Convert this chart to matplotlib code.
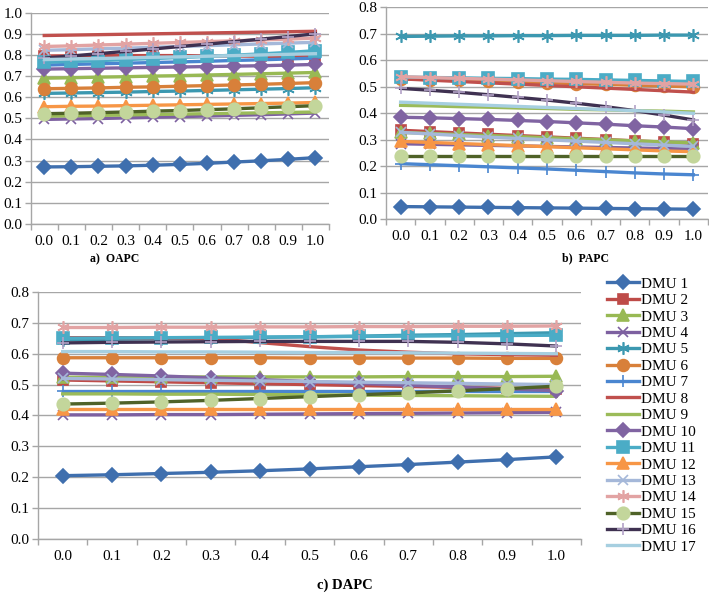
import numpy as np
import matplotlib
matplotlib.use('Agg')
import matplotlib.pyplot as plt

plt.rcParams['font.family'] = 'serif'
plt.rcParams['font.serif'] = ['Liberation Serif', 'Times New Roman', 'DejaVu Serif']

# ====================== DATA ======================
x_labels = ['0.0', '0.1', '0.2', '0.3', '0.4', '0.5', '0.6', '0.7', '0.8', '0.9', '1.0']
dmu_names = [f'DMU {i}' for i in range(1, 18)]

# a) OAPC, one row per DMU
oapc = [
    [0.270, 0.271, 0.273, 0.275, 0.278, 0.282, 0.287, 0.293, 0.299, 0.306, 0.314],
    [0.795, 0.796, 0.797, 0.797, 0.797, 0.797, 0.796, 0.795, 0.794, 0.792, 0.790],
    [0.690, 0.692, 0.695, 0.697, 0.700, 0.702, 0.705, 0.708, 0.711, 0.714, 0.717],
    [0.495, 0.497, 0.499, 0.502, 0.505, 0.508, 0.511, 0.514, 0.517, 0.521, 0.525],
    [0.618, 0.620, 0.622, 0.624, 0.627, 0.629, 0.632, 0.635, 0.638, 0.641, 0.645],
    [0.640, 0.642, 0.644, 0.647, 0.649, 0.652, 0.655, 0.658, 0.661, 0.665, 0.669],
    [0.752, 0.755, 0.758, 0.761, 0.764, 0.767, 0.770, 0.774, 0.777, 0.781, 0.785],
    [0.892, 0.894, 0.896, 0.898, 0.900, 0.902, 0.904, 0.906, 0.908, 0.910, 0.912],
    [0.510, 0.512, 0.514, 0.516, 0.518, 0.520, 0.522, 0.524, 0.526, 0.528, 0.530],
    [0.733, 0.735, 0.737, 0.739, 0.741, 0.743, 0.745, 0.747, 0.749, 0.752, 0.755],
    [0.765, 0.769, 0.773, 0.778, 0.783, 0.788, 0.793, 0.799, 0.805, 0.812, 0.820],
    [0.555, 0.557, 0.558, 0.560, 0.562, 0.564, 0.566, 0.568, 0.570, 0.572, 0.575],
    [0.822, 0.825, 0.829, 0.832, 0.836, 0.840, 0.844, 0.848, 0.852, 0.856, 0.860],
    [0.840, 0.843, 0.847, 0.851, 0.855, 0.859, 0.863, 0.867, 0.871, 0.875, 0.880],
    [0.522, 0.524, 0.527, 0.530, 0.534, 0.537, 0.541, 0.545, 0.550, 0.555, 0.560],
    [0.785, 0.795, 0.806, 0.817, 0.828, 0.840, 0.851, 0.863, 0.875, 0.887, 0.900],
    [0.778, 0.781, 0.783, 0.786, 0.789, 0.791, 0.794, 0.797, 0.800, 0.803, 0.806],
]

# b) PAPC
papc = [
    [0.048, 0.047, 0.046, 0.045, 0.044, 0.043, 0.042, 0.041, 0.040, 0.039, 0.038],
    [0.336, 0.331, 0.326, 0.321, 0.316, 0.311, 0.306, 0.301, 0.296, 0.291, 0.286],
    [0.328, 0.324, 0.320, 0.316, 0.312, 0.308, 0.304, 0.300, 0.296, 0.292, 0.288],
    [0.285, 0.283, 0.281, 0.279, 0.277, 0.275, 0.273, 0.271, 0.269, 0.267, 0.265],
    [0.690, 0.691, 0.692, 0.692, 0.693, 0.693, 0.694, 0.694, 0.694, 0.695, 0.695],
    [0.530, 0.527, 0.524, 0.521, 0.518, 0.515, 0.512, 0.509, 0.506, 0.503, 0.500],
    [0.210, 0.206, 0.202, 0.198, 0.194, 0.190, 0.185, 0.180, 0.175, 0.171, 0.168],
    [0.530, 0.525, 0.520, 0.515, 0.510, 0.505, 0.500, 0.495, 0.490, 0.485, 0.480],
    [0.430, 0.428, 0.425, 0.423, 0.420, 0.418, 0.415, 0.413, 0.410, 0.408, 0.405],
    [0.385, 0.383, 0.380, 0.377, 0.373, 0.369, 0.364, 0.359, 0.353, 0.348, 0.342],
    [0.537, 0.535, 0.534, 0.532, 0.531, 0.529, 0.528, 0.526, 0.524, 0.522, 0.520],
    [0.294, 0.290, 0.286, 0.282, 0.278, 0.274, 0.270, 0.266, 0.262, 0.258, 0.255],
    [0.328, 0.322, 0.316, 0.310, 0.305, 0.300, 0.295, 0.290, 0.285, 0.280, 0.275],
    [0.538, 0.535, 0.532, 0.529, 0.526, 0.523, 0.520, 0.517, 0.514, 0.512, 0.510],
    [0.240, 0.240, 0.240, 0.240, 0.240, 0.240, 0.240, 0.240, 0.240, 0.240, 0.240],
    [0.494, 0.487, 0.479, 0.470, 0.460, 0.450, 0.438, 0.425, 0.410, 0.393, 0.375],
    [0.442, 0.438, 0.434, 0.430, 0.426, 0.422, 0.418, 0.414, 0.410, 0.405, 0.400],
]

# c) DAPC
dapc = [
    [0.205, 0.208, 0.212, 0.216, 0.221, 0.227, 0.234, 0.241, 0.249, 0.257, 0.266],
    [0.515, 0.512, 0.509, 0.506, 0.503, 0.500, 0.497, 0.494, 0.491, 0.488, 0.485],
    [0.524, 0.524, 0.524, 0.525, 0.525, 0.525, 0.525, 0.526, 0.526, 0.526, 0.527],
    [0.402, 0.402, 0.403, 0.403, 0.404, 0.405, 0.406, 0.407, 0.408, 0.409, 0.410],
    [0.645, 0.647, 0.649, 0.651, 0.653, 0.655, 0.657, 0.660, 0.662, 0.665, 0.668],
    [0.587, 0.587, 0.587, 0.587, 0.587, 0.586, 0.586, 0.586, 0.586, 0.585, 0.585],
    [0.480, 0.480, 0.480, 0.480, 0.480, 0.480, 0.480, 0.480, 0.480, 0.480, 0.480],
    [0.652, 0.652, 0.651, 0.650, 0.636, 0.623, 0.612, 0.605, 0.600, 0.597, 0.595],
    [0.470, 0.470, 0.469, 0.469, 0.468, 0.467, 0.466, 0.465, 0.464, 0.463, 0.462],
    [0.537, 0.533, 0.528, 0.522, 0.516, 0.510, 0.504, 0.498, 0.492, 0.486, 0.480],
    [0.650, 0.651, 0.652, 0.653, 0.654, 0.655, 0.656, 0.657, 0.658, 0.659, 0.660],
    [0.420, 0.420, 0.420, 0.420, 0.420, 0.420, 0.420, 0.420, 0.420, 0.420, 0.420],
    [0.520, 0.518, 0.516, 0.514, 0.512, 0.510, 0.508, 0.506, 0.504, 0.502, 0.500],
    [0.685, 0.685, 0.686, 0.686, 0.687, 0.687, 0.688, 0.688, 0.689, 0.689, 0.690],
    [0.437, 0.440, 0.444, 0.449, 0.455, 0.461, 0.467, 0.473, 0.480, 0.487, 0.495],
    [0.635, 0.637, 0.638, 0.639, 0.640, 0.640, 0.640, 0.640, 0.637, 0.632, 0.625],
    [0.607, 0.607, 0.606, 0.606, 0.605, 0.604, 0.604, 0.603, 0.602, 0.601, 0.600],
]

# ====================== STYLES ======================
asterisk = (6, 2, 0)
# (line colour, marker, marker face, marker edge, marker size)
styles = [
    ('#3F6FAE', 'D', '#3F6FAE', '#3F6FAE', 7),
    ('#BE4B48', 's', '#BE4B48', '#BE4B48', 7),
    ('#98B954', '^', '#98B954', '#98B954', 8),
    ('#7D60A0', 'x', '#7D60A0', '#7D60A0', 7),
    ('#3C98B0', asterisk, '#3C98B0', '#3C98B0', 9),
    ('#D8803A', 'o', '#D8803A', '#D8803A', 8.5),
    ('#4A86D0', '+', '#4A86D0', '#4A86D0', 8),
    ('#C0504D', None, None, None, 0),
    ('#9BBB59', None, None, None, 0),
    ('#8064A2', 'D', '#8064A2', '#8064A2', 7),
    ('#4BACC6', 's', '#4BACC6', '#4BACC6', 8),
    ('#F79646', '^', '#F79646', '#F79646', 8),
    ('#A5B8D9', 'x', '#A5B8D9', '#A5B8D9', 7),
    ('#E2A3A3', asterisk, '#E2A3A3', '#E2A3A3', 9),
    ('#4F6228', 'o', '#C3D69B', '#C3D69B', 9),
    ('#3F3151', '+', '#B3A2C7', '#B3A2C7', 8),
    ('#A6CFE0', None, None, None, 0),
]

grid_color = '#A6A6A6'


def draw_panel(ax, data, ymax):
    x = np.arange(len(x_labels))
    for row, (lc, mk, mfc, mec, ms) in zip(data, styles):
        ax.plot(x, row, color=lc, lw=2.4, marker=mk, markerfacecolor=mfc,
                markeredgecolor=mec, markersize=ms, markeredgewidth=1.2)
    ax.set_xlim(-0.5, len(x_labels) - 0.5)
    ax.set_ylim(0, ymax)
    ticks = np.arange(0, ymax + 0.001, 0.1)
    ax.set_yticks(ticks)
    ax.set_yticklabels([f'{v:.1f}' for v in ticks])
    ax.set_xticks(x)
    ax.set_xticklabels(x_labels)
    ax.set_xticks(np.arange(-0.5, len(x_labels), 1.0), minor=True)
    ax.tick_params(axis='x', which='major', length=0, pad=8, labelsize=11)
    ax.tick_params(axis='x', which='minor', length=4, color=grid_color, width=1)
    ax.tick_params(axis='y', length=4, color=grid_color, width=1, labelsize=11, pad=2)
    ax.grid(True, axis='y', color=grid_color, lw=1)
    ax.set_axisbelow(True)
    for side in ['top', 'right']:
        ax.spines[side].set_visible(False)
    for side in ['left', 'bottom']:
        ax.spines[side].set_color(grid_color)
        ax.spines[side].set_linewidth(1)


# ====================== PLOT ======================
fig = plt.figure(figsize=(7.09, 5.93), dpi=100)

ax_a = fig.add_axes([0.0433, 0.6223, 0.4207, 0.3563])
ax_b = fig.add_axes([0.5444, 0.6302, 0.4542, 0.3575])
ax_c = fig.add_axes([0.0536, 0.0911, 0.7659, 0.4165])

draw_panel(ax_a, oapc, 1.0)
draw_panel(ax_b, papc, 0.8)
draw_panel(ax_c, dapc, 0.8)

fig.text(115 / 709, 1 - 259 / 593, 'a)  OAPC', ha='center', va='center',
         fontsize=8.5, fontweight='bold')
fig.text(586 / 709, 1 - 258 / 593, 'b)  PAPC', ha='center', va='center',
         fontsize=8.5, fontweight='bold')
fig.text(345 / 709, 1 - 585 / 593, 'c) DAPC', ha='center', va='center',
         fontsize=10.5, fontweight='bold')

handles = ax_c.get_lines()
fig.legend(handles, dmu_names, loc='upper left',
           bbox_to_anchor=(607 / 709, 1 - 277 / 593), frameon=False,
           fontsize=11, handlelength=2.1, handletextpad=0.15,
           labelspacing=0.18, borderpad=0, borderaxespad=0, numpoints=1)

plt.savefig('out.png', dpi=100)
